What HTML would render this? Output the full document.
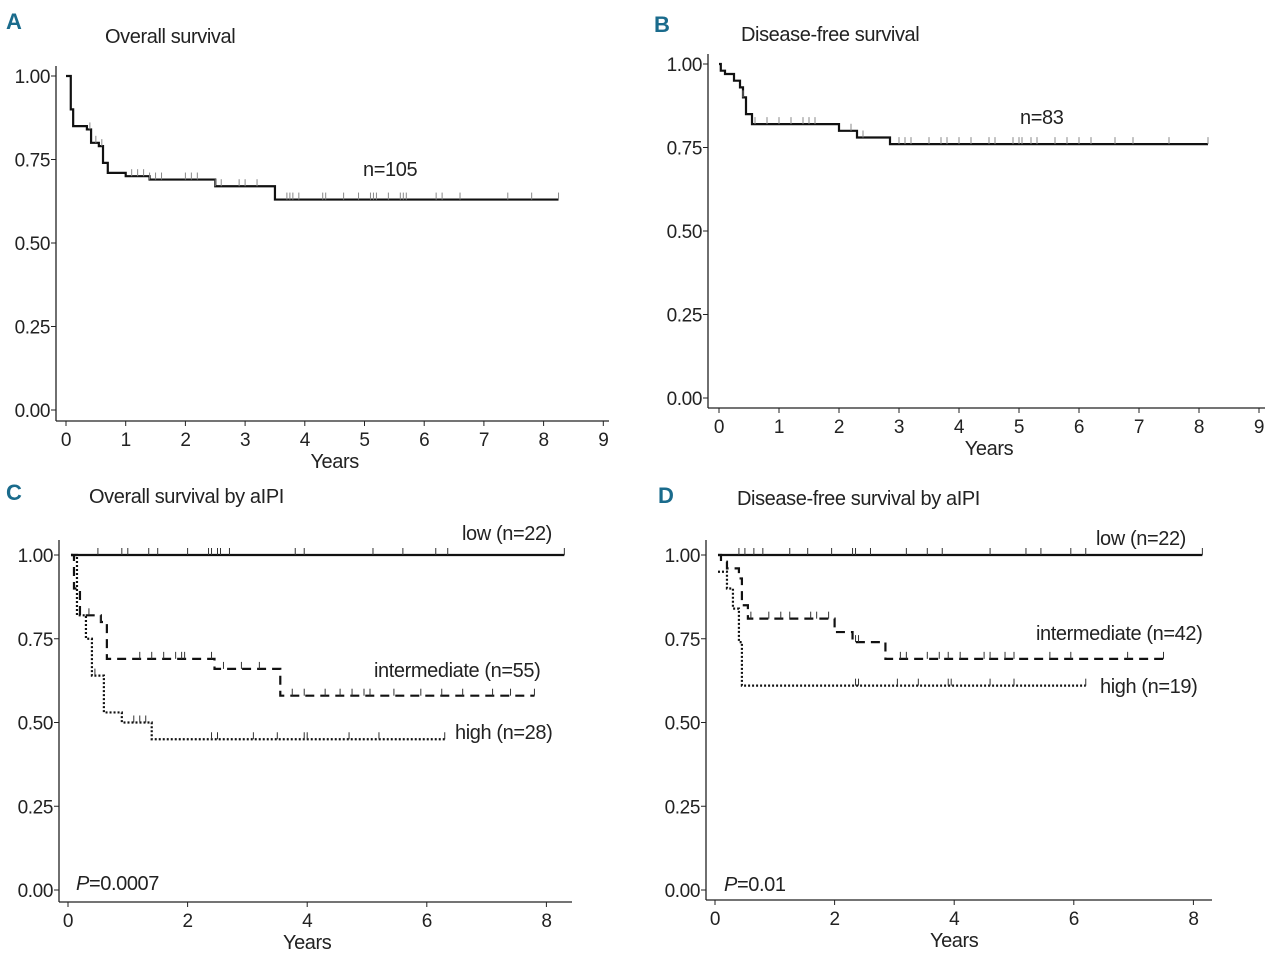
<!DOCTYPE html>
<html><head><meta charset="utf-8"><style>
html,body{margin:0;padding:0;background:#fff;}
svg{display:block;}
text{font-family:"Liberation Sans Narrow","Liberation Sans",sans-serif;fill:#222;letter-spacing:-0.4px;}
</style></head><body>
<svg id="fig" width="1280" height="961" viewBox="0 0 1280 961" xmlns="http://www.w3.org/2000/svg"></svg>
<script>
// ---- Data ----
// Panel A: overall survival
const aTimes=[0,0.03,0.08,0.12,0.35,0.42,0.55,0.62,0.7,1.0,1.4,2.5,3.5,8.25];
const aSurv=[1,1,0.90,0.85,0.84,0.80,0.79,0.74,0.71,0.70,0.69,0.67,0.63,0.63];
const aCens=[0.4,0.5,0.6,1.1,1.2,1.3,1.4,1.5,1.6,2.0,2.1,2.2,2.5,2.6,2.9,3.0,3.2,3.7,3.75,3.8,3.9,4.3,4.35,4.65,4.9,5.1,5.15,5.2,5.4,5.6,5.65,5.7,6.2,6.3,6.6,7.4,7.8,8.25];
// Panel B: disease-free survival
const bTimes=[0,0.03,0.1,0.25,0.35,0.4,0.45,0.55,2.0,2.3,2.85,8.15];
const bSurv=[1,0.98,0.97,0.95,0.93,0.90,0.85,0.82,0.80,0.78,0.76,0.76];
const bCens=[0.4,0.6,0.8,1.0,1.2,1.4,1.5,1.6,2.2,2.4,3.0,3.1,3.2,3.5,3.7,3.8,4.0,4.2,4.5,4.6,4.9,5.0,5.05,5.2,5.3,5.6,5.8,6.0,6.2,6.6,6.9,7.5,8.15];
// Panel C: overall survival by aIPI
const cLowT=[0.05,8.3], cLowS=[1,1];
const cLowCens=[0.5,0.9,1.0,1.35,1.5,2.0,2.35,2.4,2.5,2.55,2.7,3.8,3.95,5.1,5.6,6.15,6.35,8.3];
const cIntT=[0.05,0.1,0.2,0.55,0.65,2.45,3.55,7.8], cIntS=[1,0.90,0.82,0.80,0.69,0.66,0.58,0.58];
const cIntCens=[0.35,0.55,1.2,1.4,1.6,1.8,1.9,1.95,2.4,2.6,2.9,3.2,3.75,3.95,4.3,4.55,4.75,4.95,5.05,5.45,5.9,6.25,6.6,7.1,7.4,7.8];
const cHighT=[0.05,0.15,0.3,0.4,0.6,0.9,1.4,6.3], cHighS=[1,0.82,0.75,0.64,0.53,0.50,0.45,0.45];
const cHighCens=[0.45,1.1,1.2,1.3,2.4,2.5,3.1,3.5,3.95,4.0,4.7,5.2,6.3];
// Panel D: disease-free survival by aIPI
const dLowT=[0.05,8.15], dLowS=[1,1];
const dLowCens=[0.4,0.5,0.65,0.8,1.25,1.55,1.95,2.3,2.35,2.6,3.2,3.55,3.8,4.6,5.2,5.45,5.95,6.2,8.15];
const dIntT=[0.05,0.1,0.2,0.4,0.45,0.55,2.0,2.3,2.85,7.5], dIntS=[1,0.98,0.96,0.93,0.85,0.81,0.77,0.74,0.69,0.69];
const dIntCens=[0.6,0.9,1.1,1.25,1.6,1.7,1.9,2.35,2.4,3.1,3.2,3.55,3.75,3.9,4.1,4.5,4.6,4.85,5.0,5.6,5.95,6.9,7.5];
const dHighT=[0.05,0.2,0.3,0.4,0.45,6.2], dHighS=[0.95,0.90,0.84,0.74,0.61,0.61];
const dHighCens=[2.35,2.4,3.05,3.4,3.9,3.95,4.6,5.0,6.2];
const yTicks=["0.00","0.25","0.50","0.75","1.00"];
const xTicksAB=[0,1,2,3,4,5,6,7,8,9];
const xTicksCD=[0,2,4,6,8];

const NS="http://www.w3.org/2000/svg";
const svg=document.getElementById('fig');
function el(tag,attrs,parent){const e=document.createElementNS(NS,tag);for(const k in attrs)e.setAttribute(k,attrs[k]);(parent||svg).appendChild(e);return e;}
function txt(s,x,y,size,anchor,parent,extra){const t=el('text',Object.assign({x:x,y:y,'font-size':size,'text-anchor':anchor||'start'},extra||{}),parent);t.textContent=s;return t;}

function panel(cfg){
  const g=el('g',{});
  
  
  const X=v=>cfg.x0+v*cfg.xs, Y=v=>cfg.y0-(cfg.y0-cfg.y1)*v;
  const L=txt(cfg.letter,cfg.lx,cfg.ly,22,'start',g,{'font-weight':'bold',fill:'#1a6b8c',style:'fill:#1a6b8c'});
  
  const T=txt(cfg.title,cfg.tx,cfg.ty,20,'start',g);
  
  const ya=el('line',{x1:cfg.ax,y1:cfg.ayTop,x2:cfg.ax,y2:cfg.axY,stroke:'#222','stroke-width':1.3},g);
  
  const xa=el('line',{x1:cfg.ax,y1:cfg.axY,x2:cfg.axR,y2:cfg.axY,stroke:'#222','stroke-width':1.3},g);
  
  yTicks.forEach(s=>{const y=Y(parseFloat(s));
    el('line',{x1:cfg.ax-5,y1:y,x2:cfg.ax,y2:y,stroke:'#222'},g);
    const t=txt(s,cfg.ax-6,y+7,19,'end',g);});
  cfg.xt.forEach(v=>{const x=X(v);
    el('line',{x1:x,y1:cfg.axY,x2:x,y2:cfg.axY+5,stroke:'#222'},g);
    const t=txt(String(v),x,cfg.axY+25,19,'middle',g);});
  const xl=txt('Years',(X(0)+X(cfg.xt[cfg.xt.length-1]))/2,cfg.axY+47,20,'middle',g);
  
  cfg.series.forEach(s=>{
    let d='M'+X(s.t[0])+','+Y(s.s[0]);
    for(let i=1;i<s.t.length;i++){d+=' H'+X(s.t[i])+' V'+Y(s.s[i]);}
    const p=el('path',{d:d,fill:'none',stroke:'#111','stroke-width':s.w||2.2,'stroke-dasharray':s.dash||'none'},g);
    
    s.c.forEach(ct=>{let v=s.s[0];for(let i=0;i<s.t.length;i++){if(s.t[i]<=ct)v=s.s[i];}
      const m=el('line',{x1:X(ct),y1:Y(v),x2:X(ct),y2:Y(v)-7,stroke:s.cc||'#333','stroke-width':1},g);
      });
  });
  cfg.labels.forEach(l=>{const t=txt(l[0],l[1],l[2],20,l[3]||'start',g);});
  if(cfg.p){const t=el('text',{x:cfg.p[1],y:cfg.p[2],'font-size':20},g);t.innerHTML='<tspan font-style="italic">P</tspan>='+cfg.p[0];
    }
}

panel({name:'panel-a-overall-survival',letter:'A',lx:6,ly:29,title:'Overall survival',tx:105,ty:43,
  x0:66,xs:59.7,y0:410,y1:76,ax:56,ayTop:66,axY:421,axR:609,xt:xTicksAB,
  series:[{name:'overall-survival-curve',t:aTimes,s:aSurv,c:aCens,cc:'#888'}],
  labels:[['n=105',363,176,'start','n-label']]});
panel({name:'panel-b-disease-free-survival',letter:'B',lx:654,ly:32,title:'Disease-free survival',tx:741,ty:41,
  x0:719,xs:60,y0:398,y1:64,ax:708,ayTop:54,axY:408,axR:1265,xt:xTicksAB,
  series:[{name:'disease-free-survival-curve',t:bTimes,s:bSurv,c:bCens,cc:'#888'}],
  labels:[['n=83',1020,124,'start','n-label']]});
panel({name:'panel-c-overall-survival-by-aipi',letter:'C',lx:6,ly:500,title:'Overall survival by aIPI',tx:89,ty:503,
  x0:68,xs:59.8,y0:890,y1:555,ax:59,ayTop:540,axY:902,axR:572,xt:xTicksCD,
  series:[{name:'low-risk-curve',t:cLowT,s:cLowS,c:cLowCens},
          {name:'intermediate-risk-curve',t:cIntT,s:cIntS,c:cIntCens,dash:'9,6'},
          {name:'high-risk-curve',t:cHighT,s:cHighS,c:cHighCens,dash:'2,2'}],
  labels:[['low (n=22)',462,540,'start','low-label'],['intermediate (n=55)',374,677,'start','intermediate-label'],['high (n=28)',455,739,'start','high-label']],
  p:['0.0007',76,890]});
panel({name:'panel-d-disease-free-survival-by-aipi',letter:'D',lx:658,ly:503,title:'Disease-free survival by aIPI',tx:737,ty:505,
  x0:715,xs:59.8,y0:890,y1:555,ax:706,ayTop:540,axY:900,axR:1212,xt:xTicksCD,
  series:[{name:'low-risk-curve',t:dLowT,s:dLowS,c:dLowCens},
          {name:'intermediate-risk-curve',t:dIntT,s:dIntS,c:dIntCens,dash:'9,6'},
          {name:'high-risk-curve',t:dHighT,s:dHighS,c:dHighCens,dash:'2,2'}],
  labels:[['low (n=22)',1096,545,'start','low-label'],['intermediate (n=42)',1036,640,'start','intermediate-label'],['high (n=19)',1100,693,'start','high-label']],
  p:['0.01',724,891]});
</script>
</body></html>
